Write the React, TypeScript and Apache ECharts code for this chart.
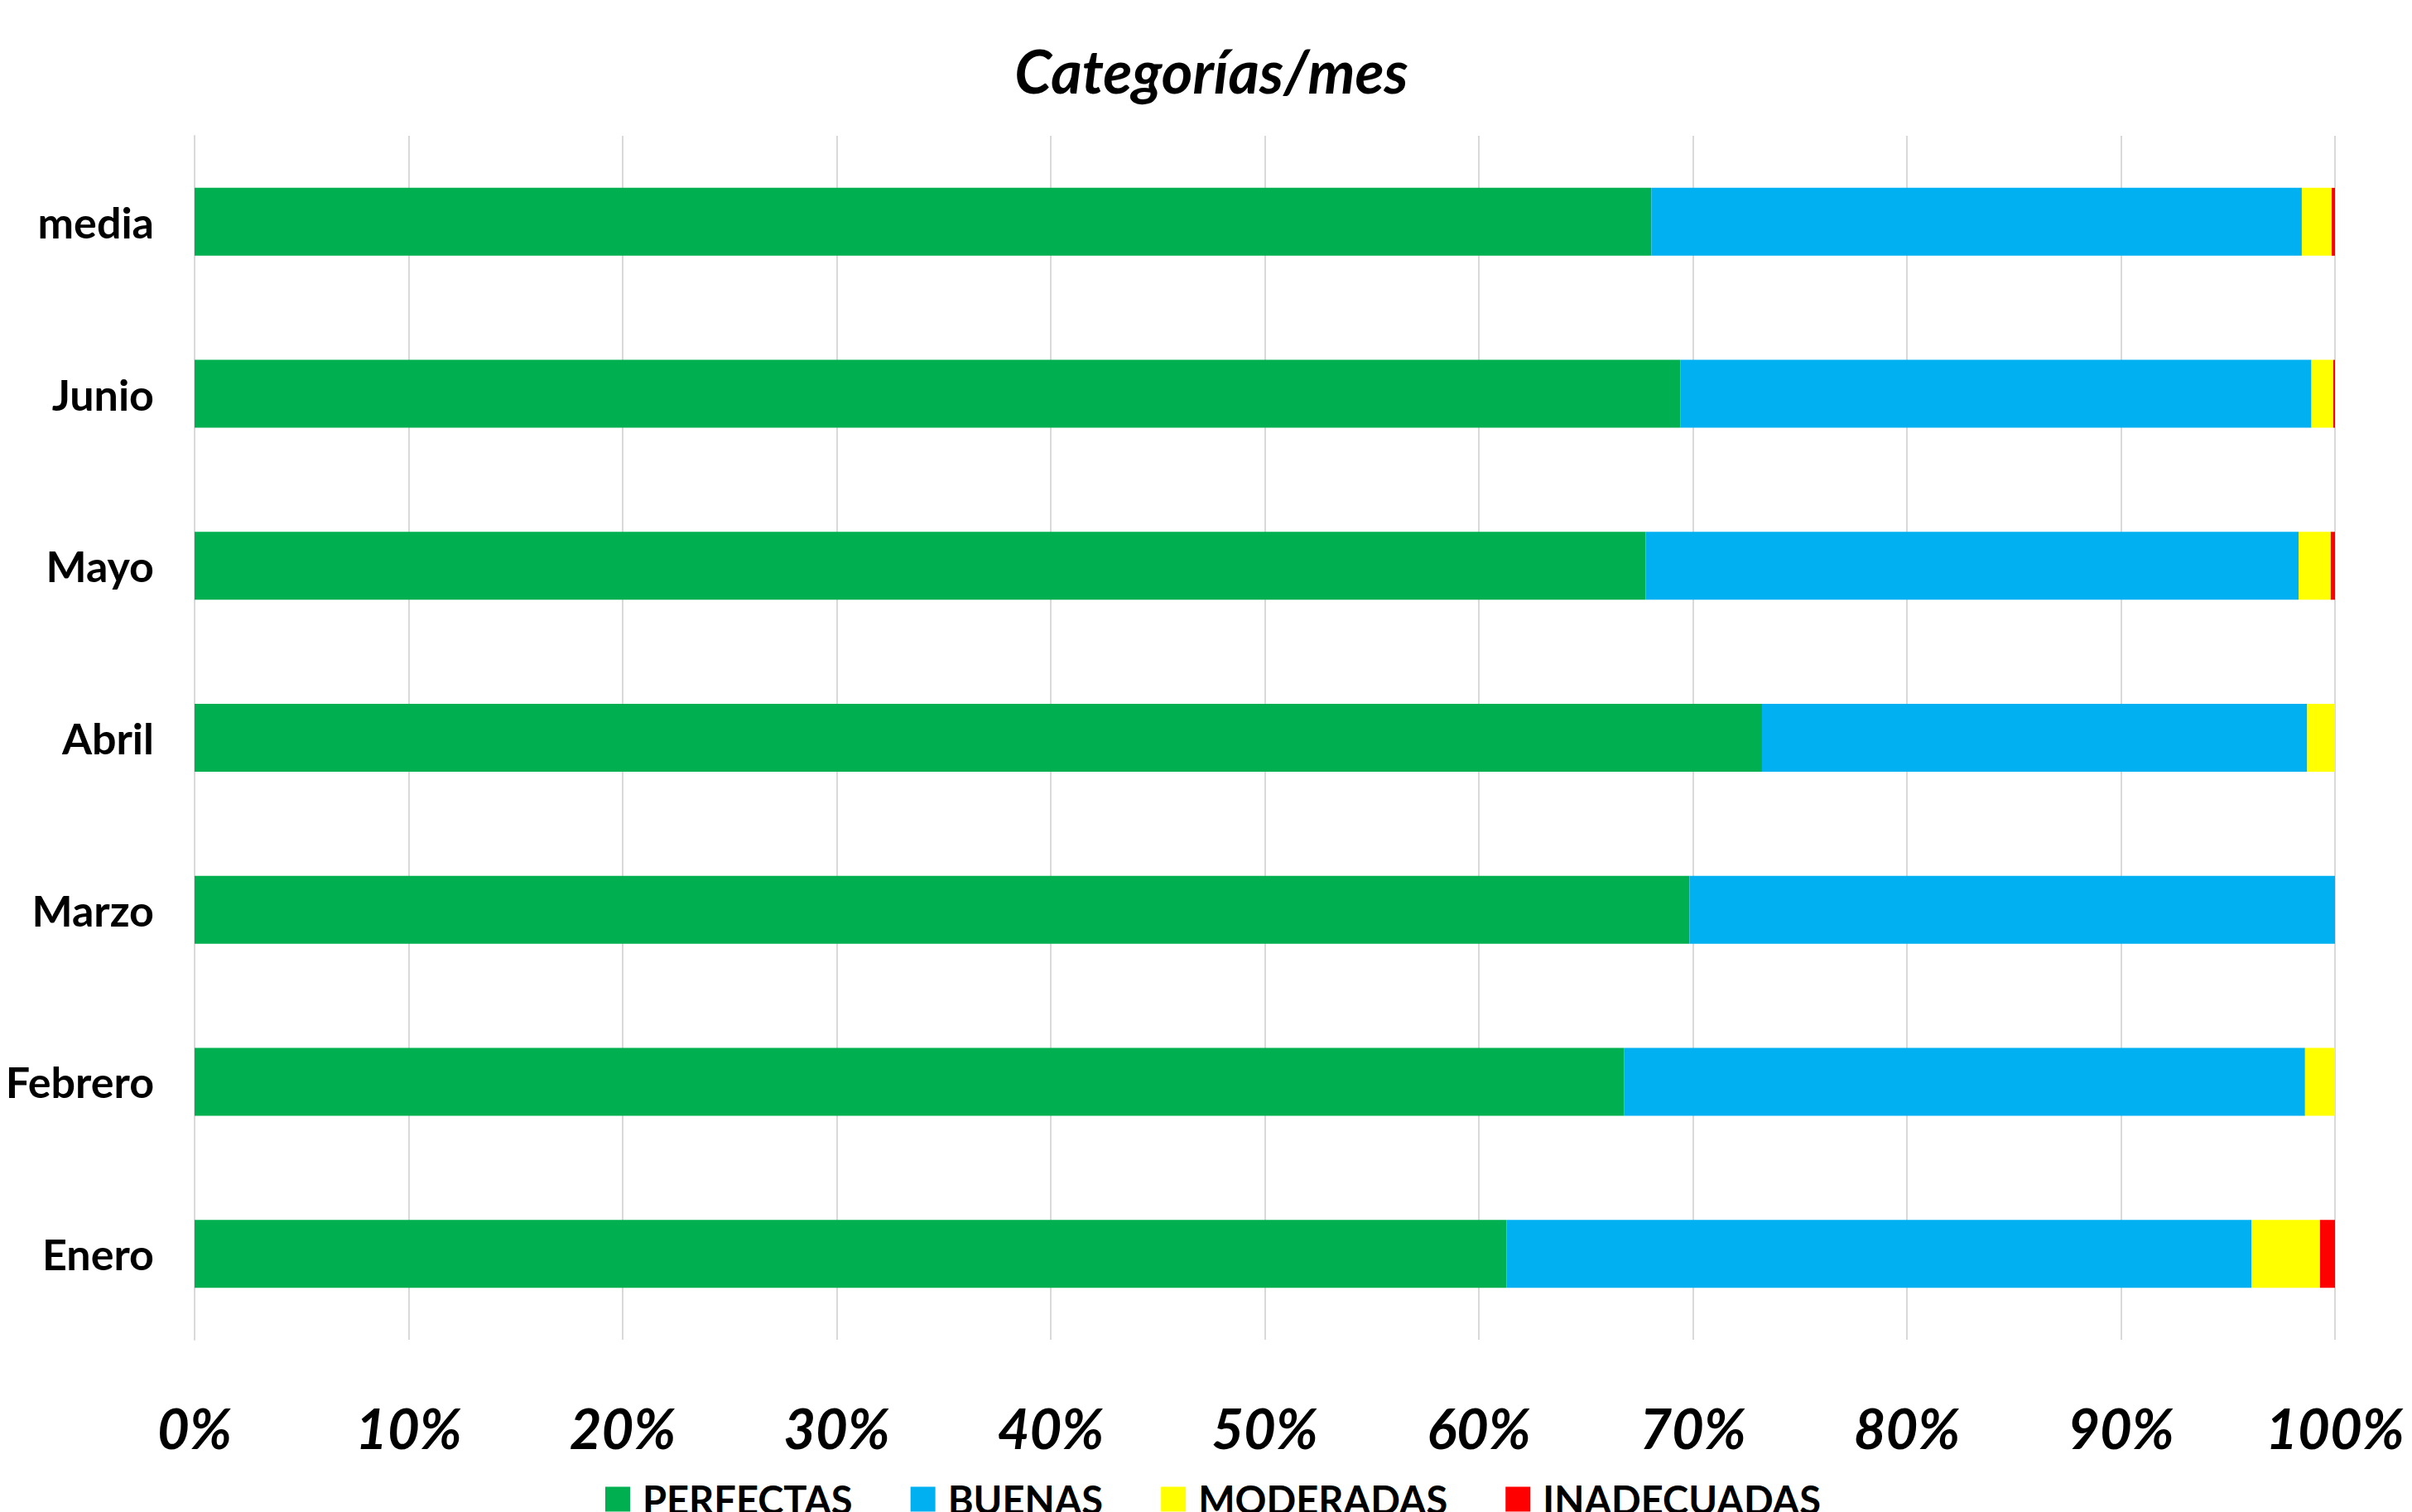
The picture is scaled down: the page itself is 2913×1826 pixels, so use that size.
import React, { useEffect, useRef } from "react";
import * as echarts from "echarts";

const categories = ["Enero", "Febrero", "Marzo", "Abril", "Mayo", "Junio", "media"];
const perfectas = [61.29, 66.78, 69.84, 73.23, 67.79, 69.41, 68.06];
const buenas = [34.81, 31.82, 30.16, 25.47, 30.51, 29.49, 30.39];
const moderadas = [3.2, 1.4, 0, 1.3, 1.5, 1.02, 1.4];
const inadecuadas = [0.7, 0, 0, 0, 0.2, 0.08, 0.15];
const seriesNames = ["PERFECTAS", "BUENAS", "MODERADAS", "INADECUADAS"];
const seriesColors = ["#00B050", "#00B0F0", "#FFFF00", "#FF0000"];
const titleText = "Categorías/mes";

export default function App() {
  const ref = useRef<HTMLDivElement>(null);
  useEffect(() => {
    document.body.style.margin = "0";
    document.body.style.overflow = "hidden";
    if (!ref.current) return;
    const chart = echarts.init(ref.current, null, { renderer: "svg" });
    const values = [perfectas, buenas, moderadas, inadecuadas];
    chart.setOption({
      animation: false,
      backgroundColor: "#ffffff",
      title: {
        text: titleText,
        left: 1458,
        textAlign: "center",
        top: 44,
        textStyle: {
          fontFamily: "Lato",
          fontWeight: "bold",
          fontStyle: "italic",
          fontSize: 72,
          color: "#000000",
        },
      },
      legend: {
        data: seriesNames,
        left: 726,
        top: 1782,
        icon: "rect",
        itemWidth: 30,
        itemHeight: 30,
        itemGap: 70,
        textStyle: {
          fontFamily: "Lato",
          fontWeight: "bold",
          fontSize: 47,
          color: "#000000",
          padding: [0, 0, 0, 10],
        },
      },
      grid: { left: 235, right: 93, top: 164, bottom: 208, containLabel: false },
      xAxis: {
        type: "value",
        min: 0,
        max: 100,
        interval: 10,
        axisLine: { show: false },
        axisTick: { show: false },
        splitLine: { show: true, lineStyle: { color: "#d9d9d9", width: 2 } },
        axisLabel: {
          formatter: "{value}%",
          margin: 72,
          fontFamily: "Lato",
          fontWeight: "bold",
          fontStyle: "italic",
          fontSize: 67,
          color: "#000000",
        },
      },
      yAxis: {
        type: "category",
        data: categories,
        axisLine: { show: true, lineStyle: { color: "#d9d9d9", width: 2 } },
        axisTick: { show: false },
        axisLabel: {
          margin: 49,
          fontFamily: "Lato",
          fontWeight: "bold",
          fontSize: 52,
          color: "#000000",
        },
      },
      series: seriesNames.map((name, i) => ({
        name,
        type: "bar",
        stack: "total",
        barWidth: 82,
        itemStyle: { color: seriesColors[i] },
        data: values[i],
      })),
    });
    return () => chart.dispose();
  }, []);
  return <div ref={ref} style={{ width: 2913, height: 1826 }} />;
}
